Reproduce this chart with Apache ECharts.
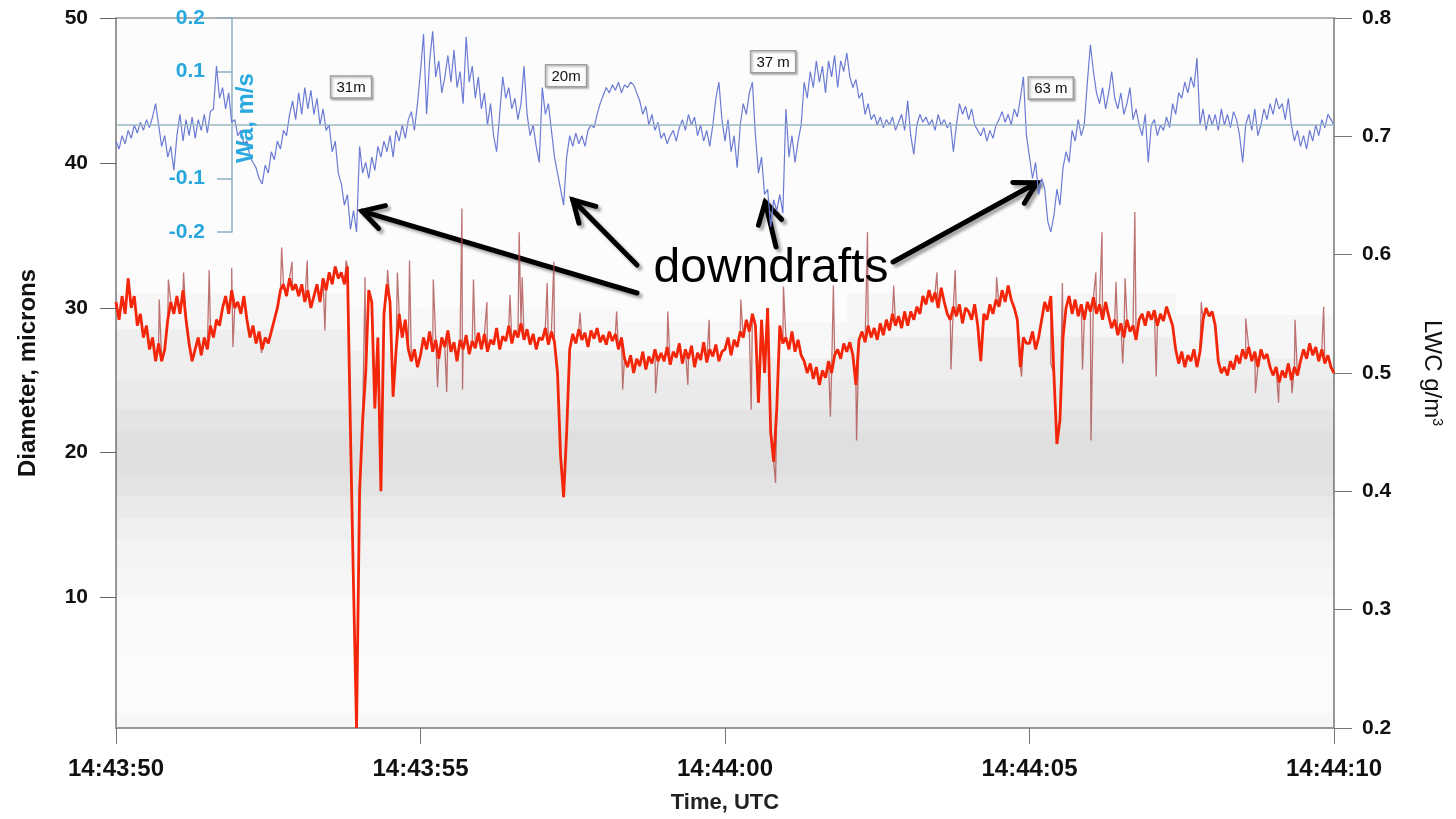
<!DOCTYPE html>
<html>
<head>
<meta charset="utf-8">
<title>Downdrafts: vertical wind, LWC and droplet diameters</title>
<script src="https://cdn.jsdelivr.net/npm/echarts@6/dist/echarts.min.js"></script>
<style>
  html, body { margin: 0; padding: 0; background: #ffffff; }
  #chart { width: 1456px; height: 819px; }
</style>
</head>
<body>
<div id="chart"></div>
<script>
// 20 Hz records, seconds after 14:43:50 UTC
const sampleStep = 0.05;
const timeTicks = [0, 5, 10, 15, 20];
const timeTickLabels = ['14:43:50', '14:43:55', '14:44:00', '14:44:05', '14:44:10'];
const diameterTicks = [10, 20, 30, 40, 50];
const waTicks = [-0.2, -0.1, 0.1, 0.2];

// Vertical wind Wa (m/s), one value per sample
const verticalWind = [
  -0.03,-0.045,-0.02,-0.035,-0.01,-0.025,0.0,-0.015,0.005,-0.01,0.01,-0.005,0.015,0.04,0.0,-0.04,-0.02,-0.06,-0.04,-0.085,
  -0.02,0.02,-0.03,0.01,-0.02,0.015,-0.025,0.01,-0.01,0.02,-0.015,0.025,0.03,0.11,0.05,0.07,0.03,0.06,0.005,0.01,
  -0.02,-0.01,-0.035,-0.03,-0.06,-0.07,-0.08,-0.1,-0.11,-0.075,-0.09,-0.05,-0.065,-0.03,-0.045,-0.01,-0.02,0.02,0.045,0.01,
  0.06,0.02,0.07,0.03,0.065,0.02,0.05,0.0,0.03,-0.01,0.0,-0.05,-0.03,-0.09,-0.11,-0.15,-0.13,-0.195,-0.16,-0.2,
  -0.04,-0.09,-0.07,-0.1,-0.06,-0.085,-0.04,-0.06,-0.03,-0.05,-0.02,-0.06,-0.01,-0.03,0.0,-0.025,0.01,0.025,-0.01,0.04,
  0.1,0.17,0.02,0.12,0.175,0.09,0.12,0.06,0.09,0.13,0.08,0.14,0.07,0.1,0.04,0.165,0.08,0.11,0.05,0.09,
  0.03,0.06,0.0,0.04,-0.02,-0.05,0.02,0.09,0.05,0.07,0.03,0.05,0.01,0.04,0.11,0.02,-0.02,0.0,-0.04,-0.07,
  0.07,0.02,0.04,-0.01,-0.06,-0.09,-0.12,-0.15,-0.06,-0.02,-0.04,-0.015,-0.035,-0.02,-0.04,-0.01,0.0,-0.005,0.02,0.04,
  0.055,0.07,0.06,0.075,0.065,0.08,0.06,0.075,0.07,0.08,0.075,0.06,0.045,0.02,0.035,0.0,0.02,-0.01,0.005,-0.025,
  -0.015,-0.035,-0.02,-0.01,-0.03,-0.005,0.01,-0.01,0.02,0.0,0.015,-0.02,0.0,-0.03,-0.01,-0.04,0.0,0.05,0.08,0.01,
  -0.03,0.01,-0.05,-0.02,-0.08,0.0,0.04,0.02,0.06,0.08,-0.02,-0.09,-0.06,-0.13,-0.12,-0.19,-0.14,-0.16,-0.13,-0.165,
  0.03,-0.06,-0.02,-0.07,-0.03,0.0,0.08,0.05,0.1,0.07,0.12,0.08,0.11,0.06,0.12,0.09,0.13,0.07,0.12,0.1,
  0.135,0.09,0.07,0.085,0.05,0.06,0.02,0.04,0.01,0.02,0.0,0.015,-0.005,0.01,0.0,0.015,-0.01,0.005,0.02,-0.01,
  0.045,-0.02,-0.055,0.0,0.02,0.005,0.015,0.0,0.01,-0.01,0.02,0.0,0.01,-0.005,0.005,-0.05,0.0,0.04,0.02,0.035,
  0.01,0.03,0.0,-0.01,-0.02,-0.005,-0.03,-0.01,-0.025,0.0,0.01,0.025,0.005,0.02,0.0,0.03,0.015,0.05,0.09,-0.02,
  -0.06,-0.1,-0.07,-0.13,-0.1,-0.12,-0.18,-0.2,-0.17,-0.12,-0.15,-0.08,-0.05,-0.07,-0.01,-0.03,0.01,-0.02,0.0,0.08,
  0.15,0.1,0.06,0.04,0.07,0.03,0.06,0.1,0.05,0.03,0.06,0.02,0.04,0.07,0.01,0.03,0.0,-0.02,0.02,-0.07,
  0.0,0.01,-0.02,0.0,-0.01,0.015,-0.005,0.04,0.02,0.06,0.05,0.08,0.06,0.09,0.07,0.125,0.0,0.03,-0.01,0.02,
  0.0,0.02,-0.01,0.03,0.0,0.02,-0.005,0.025,0.01,-0.02,-0.07,0.0,0.02,-0.01,0.03,-0.02,0.0,0.03,0.01,0.04,
  0.02,0.05,0.03,0.04,0.01,0.05,0.0,-0.03,-0.01,-0.04,-0.02,-0.045,-0.01,-0.03,0.0,-0.02,0.01,-0.005,0.02,0.01,
  0.0
];

// Liquid water content (g/m3), one value per sample
const lwc = [
  0.56,0.545,0.565,0.55,0.58,0.555,0.565,0.54,0.55,0.53,0.54,0.52,0.53,0.51,0.525,0.51,0.52,0.545,0.56,0.55,
  0.565,0.55,0.57,0.545,0.525,0.51,0.52,0.53,0.515,0.53,0.52,0.54,0.53,0.545,0.54,0.555,0.565,0.55,0.57,0.555,
  0.56,0.55,0.565,0.545,0.53,0.54,0.525,0.535,0.52,0.53,0.525,0.535,0.545,0.555,0.57,0.575,0.565,0.58,0.57,0.575,
  0.565,0.575,0.56,0.57,0.555,0.565,0.575,0.56,0.58,0.57,0.585,0.575,0.59,0.58,0.585,0.575,0.59,0.45,0.32,0.2,
  0.40,0.46,0.5,0.57,0.56,0.47,0.53,0.40,0.55,0.575,0.56,0.48,0.52,0.55,0.53,0.545,0.52,0.51,0.52,0.505,
  0.515,0.53,0.52,0.535,0.518,0.528,0.512,0.53,0.522,0.536,0.518,0.526,0.51,0.528,0.52,0.532,0.516,0.527,0.521,0.534,
  0.52,0.533,0.518,0.528,0.524,0.538,0.52,0.531,0.527,0.54,0.525,0.536,0.53,0.542,0.528,0.537,0.524,0.533,0.52,0.53,
  0.528,0.538,0.524,0.535,0.526,0.5,0.43,0.395,0.45,0.52,0.533,0.525,0.537,0.528,0.534,0.522,0.536,0.529,0.538,0.526,
  0.532,0.524,0.535,0.527,0.533,0.52,0.53,0.512,0.505,0.515,0.5,0.512,0.506,0.518,0.503,0.514,0.508,0.52,0.51,0.517,
  0.51,0.522,0.507,0.518,0.513,0.525,0.508,0.52,0.512,0.523,0.505,0.517,0.511,0.526,0.509,0.52,0.514,0.524,0.51,0.518,
  0.52,0.53,0.515,0.528,0.522,0.535,0.53,0.545,0.535,0.55,0.54,0.475,0.545,0.5,0.555,0.45,0.425,0.47,0.54,0.525,
  0.53,0.52,0.535,0.518,0.528,0.515,0.51,0.5,0.508,0.495,0.505,0.49,0.502,0.496,0.51,0.5,0.515,0.52,0.512,0.525,
  0.518,0.526,0.515,0.49,0.528,0.535,0.526,0.54,0.53,0.538,0.528,0.542,0.532,0.545,0.536,0.55,0.54,0.548,0.538,0.552,
  0.54,0.552,0.545,0.556,0.55,0.565,0.558,0.57,0.56,0.568,0.555,0.572,0.56,0.55,0.545,0.556,0.548,0.558,0.542,0.555,
  0.552,0.545,0.558,0.54,0.51,0.55,0.545,0.558,0.55,0.562,0.556,0.57,0.56,0.574,0.562,0.555,0.545,0.505,0.53,0.525,
  0.525,0.535,0.52,0.53,0.545,0.56,0.552,0.565,0.5,0.44,0.46,0.53,0.555,0.565,0.55,0.562,0.548,0.558,0.545,0.56,
  0.552,0.564,0.55,0.558,0.545,0.56,0.548,0.538,0.545,0.532,0.542,0.53,0.545,0.535,0.54,0.528,0.545,0.55,0.54,0.552,
  0.545,0.553,0.54,0.55,0.544,0.556,0.548,0.54,0.52,0.508,0.518,0.505,0.515,0.51,0.52,0.505,0.518,0.545,0.555,0.548,
  0.552,0.54,0.51,0.5,0.505,0.498,0.51,0.503,0.515,0.508,0.52,0.512,0.522,0.51,0.518,0.505,0.52,0.512,0.516,0.505,
  0.498,0.505,0.492,0.502,0.496,0.508,0.494,0.505,0.498,0.51,0.52,0.512,0.525,0.515,0.522,0.51,0.52,0.508,0.515,0.505,
  0.5
];

// Short LWC excursions between samples: [time s, LWC g/m3]
const lwcSpikes = [
  [0.21,0.579],[0.71,0.562],[0.86,0.579],[1.11,0.585],[1.53,0.587],[1.90,0.589],[1.92,0.522],[2.39,0.517],
  [2.72,0.606],[2.89,0.594],[3.14,0.595],[3.43,0.536],[3.78,0.595],[4.09,0.581],[4.46,0.587],[4.62,0.585],[4.82,0.595],
  [5.21,0.579],[5.28,0.488],[5.43,0.484],[5.68,0.639],[5.69,0.486],[5.87,0.579],[6.09,0.56],[6.47,0.566],[6.62,0.619],
  [6.67,0.581],[7.08,0.576],[7.19,0.594],[7.62,0.551],[8.22,0.552],[8.32,0.486],[8.86,0.483],[9.06,0.552],[9.39,0.49],
  [9.74,0.545],[10.26,0.562],[10.43,0.469],[10.83,0.407],[10.96,0.573],[11.73,0.463],[11.78,0.574],[12.16,0.443],
  [12.34,0.619],[12.77,0.574],[13.48,0.585],[13.71,0.503],[13.78,0.587],[14.46,0.581],[14.87,0.497],[15.35,0.508],
  [15.54,0.576],[15.87,0.503],[16.01,0.443],[16.09,0.585],[16.19,0.619],[16.42,0.577],[16.53,0.508],[16.57,0.58],
  [16.73,0.636],[17.08,0.497],[17.82,0.56],[18.55,0.546],[18.71,0.483],[19.09,0.475],[19.31,0.483],[19.36,0.545],[19.83,0.556]
];

// Droplet counts per size/time cell, as shading strength:
// [t start, t end, diameter low, diameter high, density]
const dropletDensity = [
  [0,20,1,2,0.035],[0,20,2,6,0.018],[0,20,6,10,0.024],[0,20,10,12,0.038],[0,20,12,14,0.055],
  [0,20,14,15.5,0.075],[0,20,15.5,17,0.095],[0,20,17,18.5,0.125],[0,20,18.5,21.5,0.145],
  [0,20,21.5,23,0.12],[0,20,23,25,0.095],
  [0,3.8,25,28.5,0.078],[0,3.8,28.5,31,0.038],[0,3.8,31,50,0.011],
  [3.8,5,25,27,0.072],[3.8,5,27,30,0.036],[3.8,5,30,50,0.011],
  [5,8.3,25,27,0.078],[5,8.3,27,30,0.036],[5,8.3,30,50,0.012],
  [8.3,10.3,25,26.5,0.078],[8.3,10.3,26.5,29,0.036],[8.3,10.3,29,50,0.012],
  [10.3,12,25,26.5,0.072],[10.3,12,26.5,29,0.036],[10.3,12,29,50,0.012],
  [12,15.6,25,28,0.084],[12,15.6,28,31,0.038],[12,15.6,31,50,0.012],
  [15.6,17.4,25,28,0.084],[15.6,17.4,28,31,0.038],[15.6,17.4,31,50,0.012],
  [17.4,20,25,26.5,0.078],[17.4,20,26.5,29.5,0.038],[17.4,20,29.5,50,0.014]
];

// Updraft widths written next to each downdraft: [label, time s, Wa]
const widthLabels = [['31m', 3.86, 0.071], ['20m', 7.39, 0.092], ['37 m', 10.79, 0.118], ['63 m', 15.35, 0.069]];
// Downdraft cores pointed at by the arrows: [time s, Wa]
const downdraftCores = [[4.04, -0.161], [7.50, -0.14], [10.66, -0.144], [15.12, -0.108]];

const FONT = '"Liberation Sans", Arial, sans-serif';
const AXIS_GREY = '#9a9a9a';
const WA_CYAN = '#29a9df';
const WA_AXIS_OFFSET = 116;   // inset wind axis sits this far inside the plot

const toSeries = values => values.map((v, i) => [+(i * sampleStep).toFixed(2), v]);
const waData = toSeries(verticalWind);
const lwcData = toSeries(lwc);
const lwcRawData = lwcData.concat(lwcSpikes).sort((a, b) => a[0] - b[0]);

const option = {
  animation: false,
  backgroundColor: '#ffffff',
  textStyle: { fontFamily: FONT },
  grid: [
    { left: 116, right: 122, top: 18, bottom: 89, show: true, borderColor: AXIS_GREY, borderWidth: 1.5 },
    { left: 116, right: 122, top: 18, height: 214 }
  ],
  xAxis: [
    {
      type: 'value', gridIndex: 0, min: 0, max: 20, interval: 5,
      name: 'Time, UTC', nameLocation: 'middle', nameGap: 64, nameMoveOverlap: false,
      nameTextStyle: { fontSize: 22, fontWeight: 'bold', color: '#222', fontFamily: FONT },
      axisLine: { show: true, lineStyle: { color: AXIS_GREY, width: 2 } },
      axisTick: { show: true, length: 16, lineStyle: { color: '#777', width: 1 } },
      axisLabel: {
        margin: 29, fontSize: 24, fontWeight: 'bold', color: '#111', fontFamily: FONT,
        formatter: v => { const k = timeTicks.indexOf(v); return k < 0 ? '' : timeTickLabels[k]; }
      },
      splitLine: { show: false }
    },
    { type: 'value', gridIndex: 1, min: 0, max: 20, show: false }
  ],
  yAxis: [
    {
      type: 'value', gridIndex: 0, position: 'left', min: 1, max: 50,
      name: 'Diameter, microns', nameLocation: 'middle', nameGap: 76, nameRotate: 90, nameMoveOverlap: false,
      nameTextStyle: { fontSize: 24, fontWeight: 'bold', color: '#111', fontFamily: FONT },
      axisLine: { show: true, lineStyle: { color: AXIS_GREY, width: 2 } },
      axisTick: { show: true, length: 16, customValues: diameterTicks, lineStyle: { color: '#666' } },
      axisLabel: { margin: 28, fontSize: 21, fontWeight: 'bold', color: '#111', customValues: diameterTicks, fontFamily: FONT },
      splitLine: { show: false }
    },
    {
      type: 'value', gridIndex: 0, position: 'right', min: 0.2, max: 0.8, interval: 0.1,
      name: 'LWC g/m{sup|3}', nameLocation: 'middle', nameGap: 86, nameRotate: -90, nameMoveOverlap: false,
      nameTextStyle: {
        fontSize: 24, color: '#111', fontFamily: FONT,
        rich: { sup: { fontSize: 14, verticalAlign: 'top', fontFamily: FONT, color: '#111' } }
      },
      axisLine: { show: true, lineStyle: { color: AXIS_GREY, width: 2 } },
      axisTick: { show: true, length: 18, lineStyle: { color: '#777' } },
      axisLabel: { margin: 28, fontSize: 21, fontWeight: 'bold', color: '#111', fontFamily: FONT, formatter: v => v.toFixed(1) },
      splitLine: { show: false }
    },
    {
      type: 'value', gridIndex: 1, position: 'left', offset: -WA_AXIS_OFFSET, min: -0.2, max: 0.2,
      axisLine: { show: true, lineStyle: { color: '#8fb3c3', width: 1.5 } },
      axisTick: { show: true, length: 15, customValues: waTicks, lineStyle: { color: '#8fb3c3', width: 1.5 } },
      axisLabel: {
        margin: 27, fontSize: 21, fontWeight: 'bold', color: WA_CYAN, fontFamily: FONT,
        customValues: waTicks, formatter: v => v.toFixed(1)
      },
      splitLine: { show: false }
    }
  ],
  series: [
    {
      name: 'Droplets', type: 'custom', xAxisIndex: 0, yAxisIndex: 0, z: 1, silent: true, clip: true,
      dimensions: ['t0', 't1', 'd0', 'd1', 'density'],
      encode: { x: [0, 1], y: [2, 3] },
      data: dropletDensity,
      renderItem(params, api) {
        const a = api.coord([api.value(0), api.value(3)]);
        const b = api.coord([api.value(1), api.value(2)]);
        return {
          type: 'rect',
          shape: { x: a[0], y: a[1], width: b[0] - a[0], height: b[1] - a[1] },
          style: { fill: 'rgba(35,35,35,' + api.value(4) + ')' }
        };
      }
    },
    {
      name: 'LWC raw', type: 'line', xAxisIndex: 0, yAxisIndex: 1, z: 2, silent: true,
      data: lwcRawData, showSymbol: false, symbol: 'none', sampling: null,
      lineStyle: { color: 'rgba(170,70,70,0.75)', width: 1.3 }
    },
    {
      name: 'LWC', type: 'line', xAxisIndex: 0, yAxisIndex: 1, z: 3, silent: true,
      data: lwcData, showSymbol: false, symbol: 'none',
      lineStyle: { color: '#f4260a', width: 2.8 }
    },
    {
      name: 'Wa', type: 'line', xAxisIndex: 1, yAxisIndex: 2, z: 4, silent: true,
      data: waData, showSymbol: false, symbol: 'none',
      lineStyle: { color: '#6b7bd4', width: 1.2 },
      markLine: {
        silent: true, symbol: 'none', label: { show: false },
        lineStyle: { color: '#9db7c1', width: 1.6, type: 'solid' },
        data: [{ yAxis: 0 }]
      }
    }
  ]
};

const chart = echarts.init(document.getElementById('chart'), null, { renderer: 'canvas' });
chart.setOption(option);

// Annotation layer: axis title of the inset, width boxes, "downdrafts" caption and arrows
const measure = (() => {
  const ctx = document.createElement('canvas').getContext('2d');
  return (text, font) => { ctx.font = font; return ctx.measureText(text).width; };
})();
const waPx = (t, w) => chart.convertToPixel({ gridIndex: 1 }, [t, w]);

const graphics = [];

// Title of the inset wind axis, just right of its axis line
const waAxisX = waPx(0, 0)[0] + WA_AXIS_OFFSET;
graphics.push({
  type: 'text', x: waAxisX + 14, y: waPx(0, 0.013)[1], rotation: Math.PI / 2, z: 99,
  style: { text: 'Wa, m/s', font: 'bold 24px ' + FONT, fill: WA_CYAN, align: 'center', verticalAlign: 'middle' }
});

const boxFont = '15px ' + FONT;
widthLabels.forEach(([text, t, w]) => {
  const [cx, cy] = waPx(t, w);
  const bw = Math.round(measure(text, boxFont) + 12);
  const bh = 22;
  graphics.push({
    type: 'group', z: 100,
    children: [
      {
        type: 'rect', shape: { x: cx - bw / 2, y: cy - bh / 2, width: bw, height: bh },
        style: { fill: '#ffffff', stroke: '#a0a0a0', lineWidth: 1.5,
                 shadowColor: 'rgba(0,0,0,0.25)', shadowBlur: 2, shadowOffsetX: 1.5, shadowOffsetY: 1.5 }
      },
      {
        type: 'text', x: cx, y: cy + 1,
        style: { text, font: boxFont, fill: '#111', align: 'center', verticalAlign: 'middle' }
      }
    ]
  });
});

const captionCenter = [771, 269];
graphics.push({
  type: 'text', x: captionCenter[0], y: captionCenter[1], z: 101,
  style: { text: 'downdrafts', font: '48px ' + FONT, fill: '#000', align: 'center', verticalAlign: 'middle' }
});

const arrowTails = [[637, 293], [637, 265], [776, 247], [893, 262]];
const arrowShadow = { shadowColor: 'rgba(0,0,0,0.35)', shadowBlur: 3, shadowOffsetX: 3, shadowOffsetY: 3 };
downdraftCores.forEach(([t, w], i) => {
  const tip = waPx(t, w);
  const tail = arrowTails[i];
  const ang = Math.atan2(tail[1] - tip[1], tail[0] - tip[0]);
  const headLen = 24, spread = 0.52;
  const wing = s => [tip[0] + headLen * Math.cos(ang + s), tip[1] + headLen * Math.sin(ang + s)];
  const lineStyle = Object.assign({ stroke: '#000', lineWidth: 5, fill: null, lineCap: 'round', lineJoin: 'miter' }, arrowShadow);
  graphics.push({
    type: 'group', z: 102,
    children: [
      { type: 'polyline', shape: { points: [tail, tip] }, style: lineStyle },
      { type: 'polyline', shape: { points: [wing(spread), tip, wing(-spread)] }, style: lineStyle }
    ]
  });
});

chart.setOption({ graphic: graphics });
</script>
</body>
</html>
